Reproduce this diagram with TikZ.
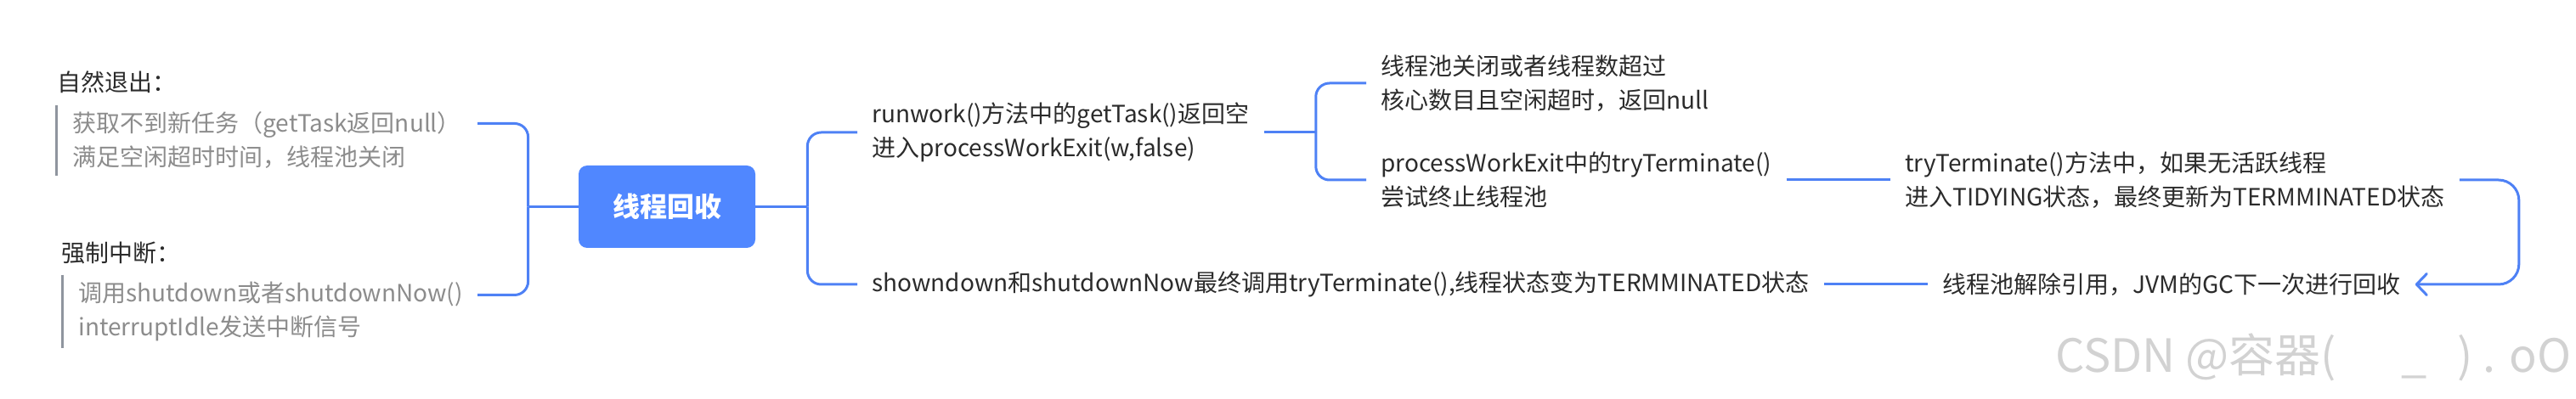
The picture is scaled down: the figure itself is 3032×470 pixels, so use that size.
\documentclass[tikz,border=0pt]{standalone}
\usepackage{xcolor}
\usepackage{fontspec}
\setmainfont{Noto Sans CJK SC}
\usepackage{tikz}
\usetikzlibrary{arrows.meta,positioning,fit,calc}

\definecolor{mapblue}{HTML}{4E81F5}
\definecolor{rootblue}{HTML}{5087FF}
\definecolor{txtdark}{HTML}{2B2B2B}
\definecolor{notegray}{HTML}{8C8C8C}
\definecolor{bargray}{HTML}{8F959E}
\definecolor{markgray}{HTML}{D2D2D2}

\begin{document}
\begin{tikzpicture}[
  x=0.5pt, y=-0.5pt,
  every node/.style={font=\fontsize{14}{20}\selectfont, text=txtdark},
  topic/.style={inner xsep=8.5pt, inner ysep=0pt, align=left, anchor=west},
  title/.style={inner sep=0pt, anchor=west},
  note/.style={inner xsep=9.5pt, inner ysep=4pt, align=left, anchor=west, text=notegray},
  rootnode/.style={fill=rootblue, rounded corners=5pt, minimum width=104pt,
    minimum height=48.5pt, text=white, font=\fontsize{16}{20}\selectfont\bfseries},
  conn/.style={mapblue, line width=1.5pt, rounded corners=8pt},
  notebar/.style={bargray, line width=1.5pt},
]

%% ── Canvas ───────────────────────────────────────────────────────────────────
\useasboundingbox (0,0) rectangle (3032,470);

%% ── Root ─────────────────────────────────────────────────────────────────────
\node[rootnode] (root) at (785,243.5) {线程回收};

%% ════════════════════════════════════════════════════════════════════════════
%% LEFT SIDE — 自然退出 / 强制中断
%% ════════════════════════════════════════════════════════════════════════════
\node[title] (natT) at (67,97) {自然退出：};
\node[note, text width=228.5pt] (natN) at (66,165.5)
  {获取不到新任务（getTask返回null）\\满足空闲超时时间，线程池关闭};
\draw[notebar] (natN.north west) -- (natN.south west);
\node[fit=(natT)(natN), inner sep=0pt] (nat) {};

\node[title] (forT) at (72,298) {强制中断：};
\node[note, text width=225pt] (forN) at (73,367)
  {调用shutdown或者shutdownNow()\\interruptIdle发送中断信号};
\draw[notebar] (forN.north west) -- (forN.south west);
\node[fit=(forT)(forN), inner sep=0pt] (force) {};

%% ════════════════════════════════════════════════════════════════════════════
%% RIGHT SIDE — branches
%% ════════════════════════════════════════════════════════════════════════════
\node[topic] (run) at (1009,156)
  {runwork()方法中的getTask()返回空\\进入processWorkExit(w,false)};
\node[topic] (pool) at (1608,98)
  {线程池关闭或者线程数超过\\核心数目且空闲超时，返回null};
\node[topic] (pwe) at (1608,212)
  {processWorkExit中的tryTerminate()\\尝试终止线程池};
\node[topic] (tt) at (2225,212)
  {tryTerminate()方法中，如果无活跃线程\\进入TIDYING状态，最终更新为TERMMINATED状态};
\node[topic] (gc) at (2269,335)
  {线程池解除引用，JVM的GC下一次进行回收};
\node[topic] (sd) at (1009,335)
  {showndown和shutdownNow最终调用tryTerminate(),线程状态变为TERMMINATED状态};

%% ── Junctions ────────────────────────────────────────────────────────────────
\coordinate (jL) at ([xshift=-29.5pt]root.west);
\coordinate (jR) at ([xshift=30.5pt]root.east);
\coordinate (jRun) at ([xshift=30.5pt]run.east);
\coordinate (loopR) at ([xshift=35pt]tt.east);

%% ── Connectors ───────────────────────────────────────────────────────────────
\draw[conn] (nat.east) -| (jL);
\draw[conn] (force.east) -| (jL);
\draw[conn] (jL) -- (root.west);

\draw[conn] (root.east) -- (jR);
\draw[conn] (jR) |- (run.west);
\draw[conn] (jR) |- (sd.west);

\draw[conn] (run.east) -- (jRun);
\draw[conn] (jRun) |- (pool.west);
\draw[conn] (jRun) |- (pwe.west);

\draw[conn] (pwe.east) -- (tt.west);
\draw[conn, rounded corners=12pt, -{Straight Barb[length=6pt, width=12.5pt, round]}]
  (tt.east) -- (loopR) |- (gc.east);
\draw[conn] (gc.west) -- (sd.east);

%% ── Watermark ────────────────────────────────────────────────────────────────
\node[font=\fontsize{27}{30}\selectfont, text=markgray, anchor=base east, inner sep=0pt]
  (mark) at (3027,438) {CSDN @容器(\hspace{38pt}\_\hspace{18pt}) . oO};

\end{tikzpicture}
\end{document}
